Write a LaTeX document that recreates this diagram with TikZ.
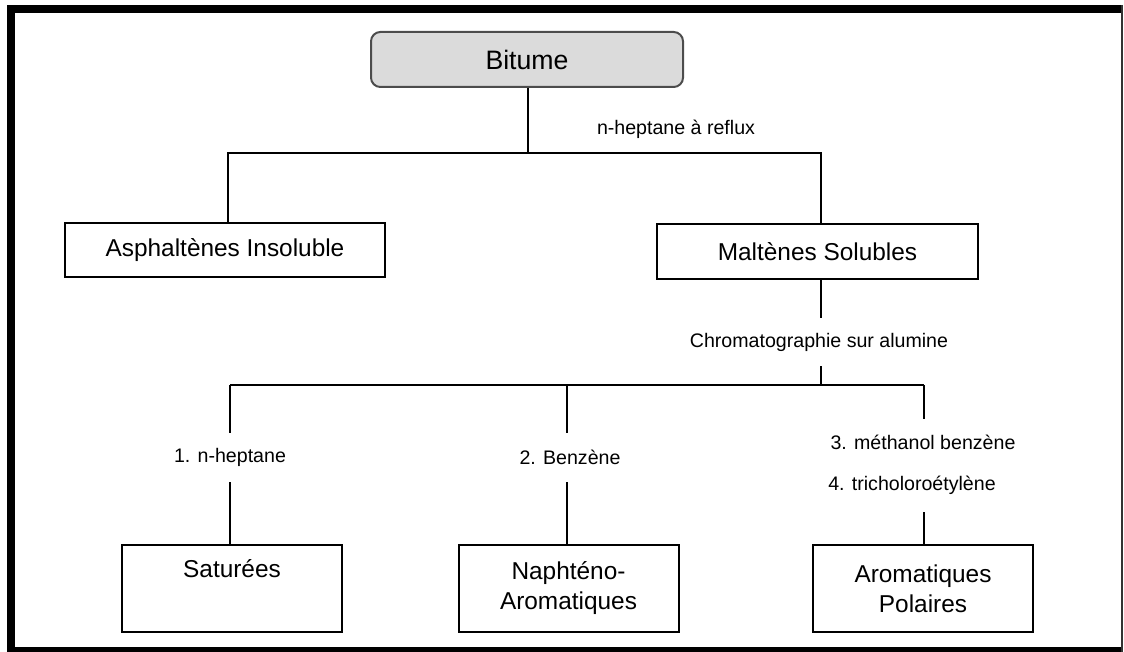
\documentclass[tikz,border=0pt]{standalone}
\usepackage{fontspec}
\setmainfont{Liberation Sans}
\begin{document}
\begin{tikzpicture}[x=0.75pt,y=-0.75pt,
  box/.style={draw=black,line width=1.5pt,fill=white,inner sep=0pt,align=center,
    font=\fontsize{18.3}{22.5}\selectfont},
  topbox/.style={box,rounded corners=7pt,fill=black!14,draw=black!70,
    font=\fontsize{20}{24}\selectfont},
  lbl/.style={inner sep=0pt,font=\fontsize{14.7}{17}\selectfont},
  link/.style={line width=1.5pt}]
\useasboundingbox (0,0) rectangle (1124,652);
% page frame
\fill[black] (7,5) rectangle (15,652);
\fill[black] (7,5) rectangle (1123,13);
\fill[black] (7,647) rectangle (1123,652);
\draw[black!80,line width=1.2pt] (1122,5) -- (1122,652);

% boxes
\node[topbox,minimum width=234pt,minimum height=41.25pt] (bit) at (527,59.5) {Bitume};
\node[box,minimum width=240pt,minimum height=40.5pt] (asp) at (225,250) {Asphaltènes Insoluble};
\node[box,minimum width=240.75pt,minimum height=41.25pt] (mal) at (817.5,251.5) {Maltènes Solubles};
\node[box,minimum width=165pt,minimum height=65.25pt] (sat) at (232,588.5) {Saturées\\\strut};
\node[box,minimum width=165pt,minimum height=65.25pt] (nap) at (568.5,588.5) {Naphténo-\\Aromatiques};
\node[box,minimum width=165pt,minimum height=65.25pt] (aro) at (923,588.5) {Aromatiques\\Polaires};

% labels on the branches
\node[lbl] (hep) at (676,129) {n-heptane à reflux};
\node[lbl,minimum height=36pt] (chr) at (819,342) {Chromatographie sur alumine};
\node[lbl,minimum height=36.75pt] (l1) at (230,457.5) {1. n-heptane};
\node[lbl,minimum height=36.75pt] (l2) at (570,457.5) {2. Benzène};
\node[lbl,minimum height=34.5pt] (l3a) at (923,442) {3. méthanol benzène};
\node[lbl,minimum height=40.5pt] (l3b) at (912,485) {4. tricholoroétylène};

% junction points
\coordinate (j0) at (528,153);
\coordinate (ja) at (228,153);
\coordinate (jm) at (821,153);
\coordinate (k0) at (821,385);
\coordinate (b1) at (230,385);
\coordinate (b2) at (567,385);
\coordinate (b3) at (924,385);

% first split
\draw[link] (j0 |- bit.south) -- (j0);
\draw[link] (ja |- asp.north) -- (ja) -- (jm) -- (jm |- mal.north);

% second split
\draw[link] (k0 |- mal.south) -- (k0 |- chr.north);
\draw[link] (k0 |- chr.south) -- (k0);
\draw[link] (b1) -- (b3);
\draw[link] (b1) -- (b1 |- l1.north);
\draw[link] (b1 |- l1.south) -- (b1 |- sat.north);
\draw[link] (b2) -- (b2 |- l2.north);
\draw[link] (b2 |- l2.south) -- (b2 |- nap.north);
\draw[link] (b3) -- (b3 |- l3a.north);
\draw[link] (b3 |- l3b.south) -- (b3 |- aro.north);
\end{tikzpicture}
\end{document}
